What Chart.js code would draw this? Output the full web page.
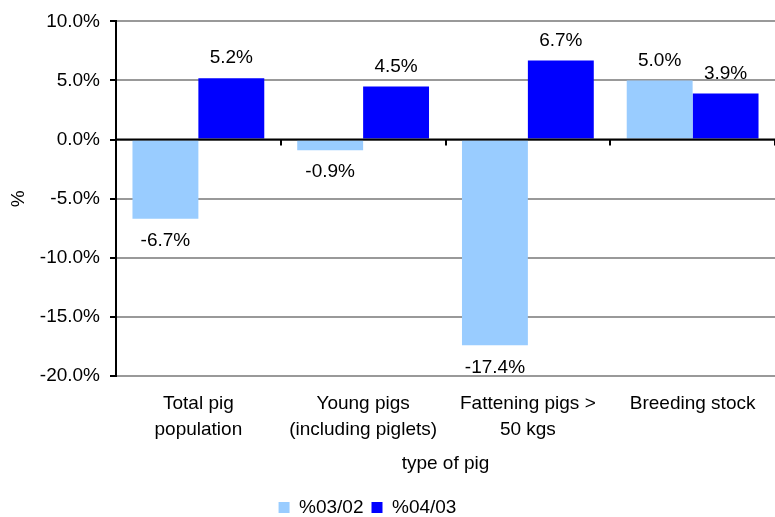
<!DOCTYPE html>
<html><head><meta charset="utf-8">
<script src="https://cdn.jsdelivr.net/npm/chart.js@4/dist/chart.umd.min.js"></script>
<style>html,body{margin:0;padding:0;background:#fff}#wrap{width:775px;height:517px}</style>
</head><body><div id="wrap"><canvas id="c" width="775" height="517"></canvas></div>
<script>
const categories = [["Total pig","population"],["Young pigs","(including piglets)"],["Fattening pigs >","50 kgs"],["Breeding stock"]];
const series1 = [-6.7, -0.9, -17.4, 5.0];
const series2 = [5.2, 4.5, 6.7, 3.9];
const seriesNames = ["%03/02","%04/03"];
const yTicks = [-20,-15,-10,-5,0,5,10];

const FONT = "'Liberation Sans', Arial, sans-serif";
Chart.defaults.font.family = FONT;
Chart.defaults.font.size = 19;
Chart.defaults.color = '#000';

const labelPlugin = {
  id:'labels',
  afterLayout(chart){
    if(chart.legend){ chart.legend.left -= 20; chart.legend.right -= 20; chart.legend.top += 10; chart.legend.bottom += 10; }
  },
  afterDatasetsDraw(chart){
    const ctx = chart.ctx;
    ctx.save();
    ctx.font = "19px " + FONT;
    ctx.fillStyle = '#000';
    ctx.textAlign='center'; ctx.textBaseline='middle';
    chart.data.datasets.forEach((ds,i)=>{
      chart.getDatasetMeta(i).data.forEach((bar,j)=>{
        const v = ds.data[j];
        const y = v>=0 ? bar.y-20 : bar.y+22;
        ctx.fillText(v.toFixed(1)+'%', bar.x, y);
      });
    });
    const xs = chart.scales.x, ys = chart.scales.y;
    const y0 = ys.getPixelForValue(0);
    ctx.strokeStyle='#000'; ctx.lineWidth=2;
    const n = chart.data.labels.length;
    for(let k=1;k<=n;k++){
      const x = xs.left + (xs.right-xs.left)*k/n;
      ctx.beginPath(); ctx.moveTo(Math.round(x),y0); ctx.lineTo(Math.round(x),y0+6); ctx.stroke();
    }
    ctx.beginPath(); ctx.moveTo(xs.left,y0); ctx.lineTo(xs.right,y0); ctx.stroke();
    ctx.restore();
  }
};

new Chart(document.getElementById('c'),{
  type:'bar',
  data:{labels:categories,datasets:[
    {label:seriesNames[0],data:series1,backgroundColor:'#99CCFF',categoryPercentage:0.8,barPercentage:1},
    {label:seriesNames[1],data:series2,backgroundColor:'#0000FF',categoryPercentage:0.8,barPercentage:1}
  ]},
  options:{
    responsive:false,animation:false,
    layout:{padding:{top:10,right:0,left:0,bottom:0}},
    plugins:{
      legend:{position:'bottom',labels:{boxWidth:11,boxHeight:11,padding:8,font:{size:19}}},
      tooltip:{enabled:false}
    },
    scales:{
      x:{
        afterFit(s){ s.height = 104; },
        grid:{display:false,drawTicks:false},border:{display:false},
        ticks:{font:{size:19,lineHeight:1.37},maxRotation:0,autoSkip:false,padding:15},
        title:{display:true,text:'type of pig',font:{size:19},padding:{top:0,bottom:5}}
      },
      y:{
        min:-20,max:10,
        afterBuildTicks(s){ s.ticks = yTicks.map(v=>({value:v})); },
        afterFit(s){ s.width = 116; },
        ticks:{callback:v=>v.toFixed(1)+'%',font:{size:19},padding:10},
        grid:{color:'#999',lineWidth:2,tickLength:6,tickColor:'#000'},
        border:{display:true,color:'#000',width:2},
        title:{display:true,text:'%',font:{size:19},padding:{top:7,bottom:0}}
      }
    }
  },
  plugins:[labelPlugin]
});
</script></body></html>
